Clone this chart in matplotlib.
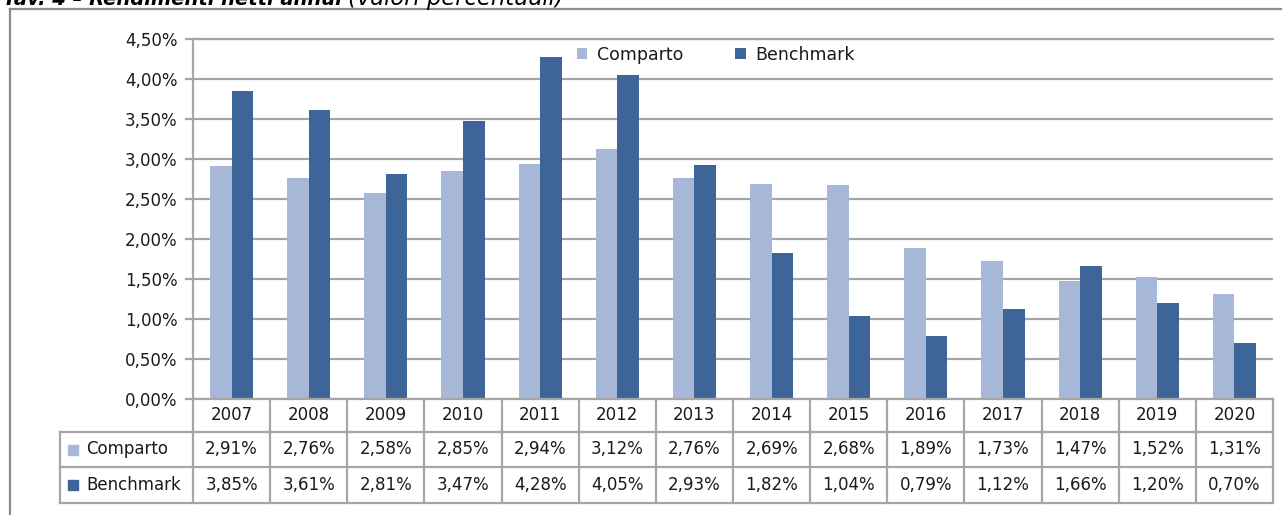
import matplotlib
matplotlib.use("Agg")
import matplotlib.pyplot as plt
import matplotlib.transforms as mtransforms
from matplotlib.patches import Rectangle
from matplotlib.lines import Line2D
import numpy as np

years = ["2007", "2008", "2009", "2010", "2011", "2012", "2013",
         "2014", "2015", "2016", "2017", "2018", "2019", "2020"]
comparto = [2.91, 2.76, 2.58, 2.85, 2.94, 3.12, 2.76, 2.69, 2.68, 1.89, 1.73, 1.47, 1.52, 1.31]
benchmark = [3.85, 3.61, 2.81, 3.47, 4.28, 4.05, 2.93, 1.82, 1.04, 0.79, 1.12, 1.66, 1.20, 0.70]
series_names = ["Comparto", "Benchmark"]
yticks = [0.0, 0.5, 1.0, 1.5, 2.0, 2.5, 3.0, 3.5, 4.0, 4.5]

C_LIGHT = "#A6B7D7"
C_DARK = "#3D6598"
GRID = "#A6A6A6"
TXT = "#1a1a1a"

W, H = 1282, 515
fig = plt.figure(figsize=(W / 100, H / 100), dpi=100)
plt.rcParams['font.family'] = ['DejaVu Sans']

def fx(px):
    return px / W

def fy(py):
    return 1 - py / H

ax_l, ax_r, ax_t, ax_b = 193, 1273, 39, 399
ax = fig.add_axes([fx(ax_l), fy(ax_b), fx(ax_r) - fx(ax_l), fy(ax_t) - fy(ax_b)])

x = np.arange(len(years))
bw = 0.28
ax.bar(x - bw / 2, comparto, width=bw, color=C_LIGHT, label=series_names[0], zorder=3)
ax.bar(x + bw / 2, benchmark, width=bw, color=C_DARK, label=series_names[1], zorder=3)

ax.set_xlim(-0.5, len(years) - 0.5)
ax.set_ylim(0, 4.5)
ax.set_yticks(yticks)
ax.set_yticklabels([f"{v:.2f}%".replace(".", ",") for v in yticks], fontsize=12, color=TXT)
ax.yaxis.grid(True, color=GRID, linewidth=1.6, zorder=0)
ax.set_xticks([])
for s in ["top", "right", "bottom"]:
    ax.spines[s].set_visible(False)
ax.spines["left"].set_color(GRID)
ax.spines["left"].set_linewidth(1.6)
ax.tick_params(axis="y", length=6, width=1.6, color=GRID, pad=5)
ax.axhline(4.5, color=GRID, linewidth=1.6, zorder=1, clip_on=False)

leg = ax.legend(loc="center", bbox_to_anchor=(fx(716), fy(55)), bbox_transform=fig.transFigure,
                ncol=2, frameon=False, fontsize=12.5, handlelength=0.6, handleheight=0.6,
                handletextpad=0.55, columnspacing=3.0)
for t in leg.get_texts():
    t.set_color(TXT)

pix = mtransforms.Affine2D().scale(1, -1).translate(0, H)
bl = mtransforms.blended_transform_factory(ax.transData, pix)

row_y = [399, 432, 467, 503]
tbl_left = 60
lw = 1.6

for i, yy in enumerate(row_y):
    x0 = ax_l if i == 0 else tbl_left
    fig.add_artist(Line2D([x0, ax_r], [yy, yy], transform=pix, color=GRID, lw=lw))
fig.add_artist(Line2D([tbl_left, tbl_left], [row_y[1], row_y[3]], transform=pix, color=GRID, lw=lw))
for b in np.arange(len(years) + 1) - 0.5:
    ax.add_line(Line2D([b, b], [row_y[0], row_y[3]], transform=bl, color=GRID, lw=lw, clip_on=False))

for xi, yr in zip(x, years):
    ax.text(xi, (row_y[0] + row_y[1]) / 2, yr, transform=bl, ha="center", va="center",
            fontsize=12, color=TXT, clip_on=False)

for r, (vals, name, col) in enumerate(zip([comparto, benchmark], series_names, [C_LIGHT, C_DARK])):
    yc = (row_y[r + 1] + row_y[r + 2]) / 2
    for xi, v in zip(x, vals):
        ax.text(xi, yc, f"{v:.2f}%".replace(".", ","), transform=bl, ha="center", va="center",
                fontsize=12, color=TXT, clip_on=False)
    fig.add_artist(Rectangle((68, yc - 5), 10, 10, transform=pix, color=col))
    fig.text(86 / W, fy(yc), name, ha="left", va="center", fontsize=12, color=TXT)

fig.add_artist(Line2D([10, W + 5], [9, 9], transform=pix, color="#8c8c8c", lw=1.6))
fig.add_artist(Line2D([10, 10], [9, H + 5], transform=pix, color="#8c8c8c", lw=1.6))

# cropped title at the very top, sized to the reference widths
renderer = fig.canvas.get_renderer()
t1 = fig.text(3 / W, fy(5), "Tav. 4 \u2013 Rendimenti netti annui", ha="left", va="baseline",
              fontsize=14, fontweight="bold", fontstyle="italic", color="#000000")
w1 = t1.get_window_extent(renderer).width
t1.set_fontsize(14 * 339 / w1)
t2 = fig.text(348 / W, fy(5), "(valori percentuali)", ha="left", va="baseline",
              fontsize=14, fontstyle="italic", color="#000000")
w2 = t2.get_window_extent(renderer).width
t2.set_fontsize(14 * 216 / w2)

fig.savefig("out.png", dpi=100)
